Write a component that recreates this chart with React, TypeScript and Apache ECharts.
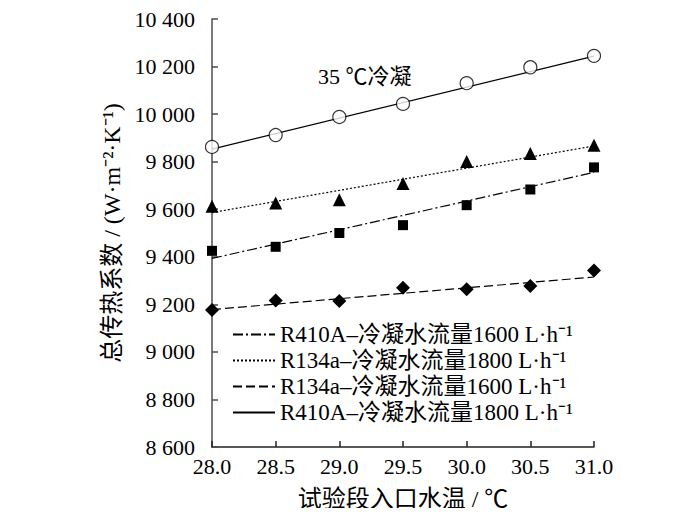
import { useEffect, useRef } from 'react'
import * as echarts from 'echarts'

// 试验段入口水温 (℃)
const temps = [28.0, 28.5, 29.0, 29.5, 30.0, 30.5, 31.0]

// measured overall heat transfer coefficient, W·m⁻²·K⁻¹
const r410a1800 = [9862, 9912, 9988, 10043, 10130, 10197, 10245]
const r134a1800 = [9612, 9626, 9640, 9708, 9801, 9834, 9869]
const r410a1600 = [9425, 9442, 9500, 9533, 9617, 9683, 9776]
const r134a1600 = [9176, 9216, 9214, 9270, 9263, 9277, 9342]

// fitted trend lines, values at 28.0 and 31.0
const trendEnds = [28.0, 31.0]
const fitR410a1800 = [9853, 10244]
const fitR134a1800 = [9586, 9866]
const fitR410a1600 = [9393, 9755]
const fitR134a1600 = [9178, 9315]

const legendNames = [
  'R410A–冷凝水流量1600 L·h⁻¹',
  'R134a–冷凝水流量1800 L·h⁻¹',
  'R134a–冷凝水流量1600 L·h⁻¹',
  'R410A–冷凝水流量1800 L·h⁻¹',
]

const FONT = "'Liberation Serif', 'Times New Roman', 'Noto Sans CJK SC', serif"

const pairs = (xs: number[], ys: number[]) => xs.map((x, i) => [x, ys[i]])

export default function App() {
  const chartRef = useRef<HTMLDivElement>(null)

  useEffect(() => {
    if (!chartRef.current) return
    const chart = echarts.init(chartRef.current, null, { renderer: 'svg' })

    const trend = (name: string, ys: number[], type: any) => ({
      name,
      type: 'line',
      data: pairs(trendEnds, ys),
      symbol: 'none',
      silent: true,
      color: '#000',
      itemStyle: { color: '#000' },
      lineStyle: { color: '#000', width: 1.2, type },
      z: 2,
    })

    const dots = (name: string, ys: number[], symbol: string, size: number, hollow = false) => ({
      name,
      type: 'scatter',
      data: pairs(temps, ys),
      symbol,
      symbolSize: size,
      itemStyle: hollow
        ? { color: '#fff', borderColor: '#000', borderWidth: 1.2 }
        : { color: '#000', opacity: 1 },
      z: 3,
    })

    const option: any = {
      animation: false,
      textStyle: { fontFamily: FONT, color: '#000' },
      grid: { left: 212, right: 106, top: 19, bottom: 68 },
      legend: {
        data: legendNames,
        orient: 'vertical',
        left: 232,
        top: 323,
        padding: 0,
        itemGap: 3,
        itemWidth: 42,
        itemHeight: 14,
        itemStyle: { opacity: 0 },
        textStyle: { fontFamily: FONT, fontSize: 23, color: '#000' },
      },
      xAxis: {
        type: 'value',
        min: 28,
        max: 31,
        interval: 0.5,
        name: '试验段入口水温 / ℃',
        nameLocation: 'middle',
        nameGap: 40,
        nameTextStyle: { fontFamily: FONT, fontSize: 24, color: '#000' },
        axisLine: { lineStyle: { color: '#222', width: 1.5 } },
        axisTick: { inside: true, length: 6, lineStyle: { color: '#222', width: 1.5 } },
        axisLabel: {
          margin: 8,
          fontSize: 22,
          fontFamily: FONT,
          color: '#000',
          formatter: (v: number) => v.toFixed(1),
        },
        splitLine: { show: false },
      },
      yAxis: {
        type: 'value',
        min: 8600,
        max: 10400,
        interval: 200,
        name: '总传热系数 / (W·m⁻²·K⁻¹)',
        nameLocation: 'middle',
        nameGap: 88,
        nameTextStyle: { fontFamily: FONT, fontSize: 24, color: '#000' },
        axisLine: { show: true, lineStyle: { color: '#4d4d4d', width: 1.5 } },
        axisTick: { show: true, inside: true, length: 6, lineStyle: { color: '#4d4d4d', width: 1.5 } },
        axisLabel: {
          margin: 17,
          fontSize: 22,
          fontFamily: FONT,
          color: '#000',
          formatter: (v: number) => {
            const s = String(Math.round(v))
            return s.length > 3 ? s.slice(0, s.length - 3) + ' ' + s.slice(-3) : s
          },
        },
        splitLine: { show: false },
      },
      graphic: [
        {
          type: 'text',
          left: 318,
          top: 65,
          style: { text: '35 ℃冷凝', fontFamily: FONT, fontSize: 22, fill: '#000' },
        },
      ],
      series: [
        trend(legendNames[0], fitR410a1600, [10, 3, 2, 3]),
        trend(legendNames[1], fitR134a1800, [2, 2]),
        trend(legendNames[2], fitR134a1600, [9, 4]),
        trend(legendNames[3], fitR410a1800, 'solid'),
        dots('R410A 1800 测点', r410a1800, 'circle', 13, true),
        dots('R134a 1800 测点', r134a1800, 'triangle', 13),
        dots('R410A 1600 测点', r410a1600, 'rect', 10),
        dots('R134a 1600 测点', r134a1600, 'diamond', 14),
      ],
    }

    chart.setOption(option)
    return () => chart.dispose()
  }, [])

  return <div ref={chartRef} style={{ width: 700, height: 516, margin: -8 }} />
}
